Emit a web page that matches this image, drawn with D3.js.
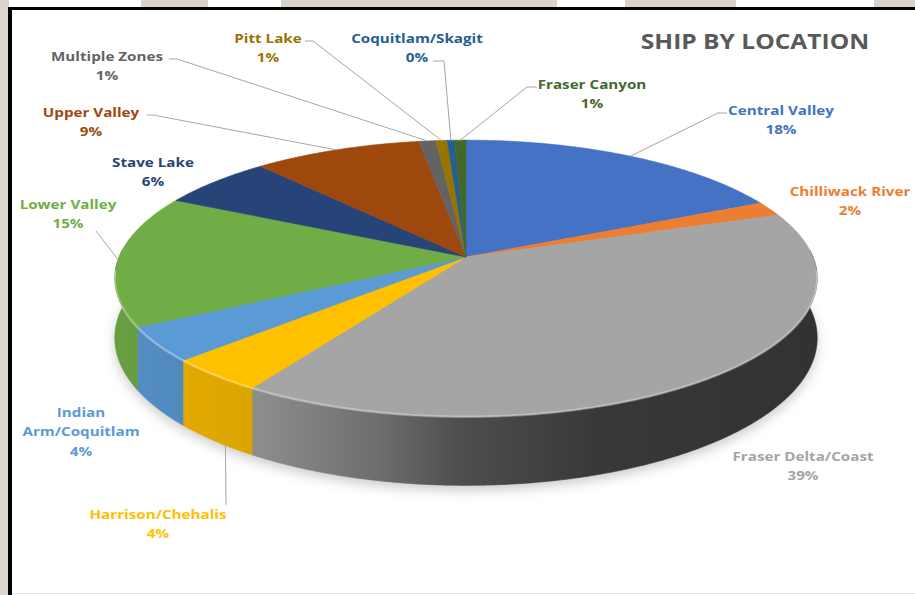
<!DOCTYPE html>
<html>
<head>
<meta charset="utf-8">
<script src="https://cdn.jsdelivr.net/npm/d3@7"></script>
<style>
  body { margin: 0; background: #fff; }
  svg { display: block; font-family: "Open Sans", sans-serif; }
</style>
</head>
<body>
<svg id="chart" width="915" height="595"></svg>
<script>
// slices, clockwise from 12 o'clock
const locations = ['Central Valley', 'Chilliwack River', 'Fraser Delta/Coast', 'Harrison/Chehalis',
  'Indian Arm/Coquitlam', 'Lower Valley', 'Stave Lake', 'Upper Valley', 'Multiple Zones',
  'Pitt Lake', 'Coquitlam/Skagit', 'Fraser Canyon'];
const shares = [18.0, 1.7, 39.3, 4.0, 4.0, 15.4, 6.1, 9.0, 0.9, 0.6, 0.4, 0.6];
const sliceColors = ['#4472c4', '#ed7d31', '#a5a5a5', '#ffc000', '#5b9bd5', '#70ad47',
  '#264478', '#9e480e', '#636363', '#997300', '#255e91', '#43682b'];

// where the labels sit (first baseline, centre) and how leaders bend
const labelLayout = {
  'Central Valley':       {x: 781, y: 115, leader: [[727, 113], [718, 113]]},
  'Chilliwack River':     {x: 850, y: 196},
  'Fraser Delta/Coast':   {x: 803, y: 461},
  'Harrison/Chehalis':    {x: 158, y: 519, leader: [[226, 505]], rimZ: 1, at: 0.35},
  'Indian Arm/Coquitlam': {x: 81,  y: 417, lines: ['Indian', 'Arm/Coquitlam']},
  'Lower Valley':         {x: 68,  y: 209, leader: [[96, 231]]},
  'Stave Lake':           {x: 153, y: 167},
  'Upper Valley':         {x: 91,  y: 117, leader: [[147, 115], [153, 115]]},
  'Multiple Zones':       {x: 107, y: 61,  leader: [[169, 59], [177, 59]]},
  'Pitt Lake':            {x: 268, y: 43,  leader: [[305, 41], [313, 41]]},
  'Coquitlam/Skagit':     {x: 417, y: 43,  leader: [[433, 61], [444, 61]]},
  'Fraser Canyon':        {x: 592, y: 89,  leader: [[537, 87], [527, 87]]}
};

const data = locations.map((name, i) => ({name, value: shares[i], color: sliceColors[i]}));
const total = d3.sum(shares);

// perspective pie: centre, radii, tilt factor, thickness
const cx = 466, cy = 257, A = 347, B = 135, k = 0.155, T = 58;
const textStretch = 1.17;

function proj(a, r, z) {
  const u = r * Math.sin(a), v = -r * Math.cos(a);
  const w = 1 - k * v;
  return [cx + A * u / w, cy + B * v / w + z * T / w];
}

function arcPts(a0, a1, z) {
  const n = Math.max(2, Math.ceil((a1 - a0) / (Math.PI / 360)));
  return d3.range(n + 1).map(i => proj(a0 + (a1 - a0) * i / n, 1, z));
}

const svg = d3.select('#chart');
const defs = svg.append('defs');

// page background bits around the frame
const bg = svg.append('g');
bg.append('rect').attr('x', 0).attr('y', 0).attr('width', 9).attr('height', 595).attr('fill', '#dcd7cf');
[[0, 9], [141, 67], [281, 276], [625, 111], [874, 41]].forEach(([x, w]) => {
  bg.append('rect').attr('x', x).attr('y', 0).attr('width', w).attr('height', 8).attr('fill', '#d9d3ca');
});
bg.append('rect').attr('x', 8).attr('y', 7).attr('width', 907).attr('height', 3).attr('fill', '#000');
bg.append('rect').attr('x', 8).attr('y', 7).attr('width', 4).attr('height', 588).attr('fill', '#000');
bg.append('line').attr('x1', 12).attr('x2', 915).attr('y1', 593.5).attr('y2', 593.5)
  .attr('stroke', '#e4e4e4');

// title
svg.append('text')
  .attr('transform', `translate(755,49) scale(${textStretch},1)`)
  .attr('text-anchor', 'middle')
  .attr('font-size', 21).attr('font-weight', 700)
  .attr('fill', '#595959')
  .text('SHIP BY LOCATION');

const pie = d3.pie().sort(null).value(d => d.value);
const arcs = pie(data);

// soft shadow under the disc
const blur = defs.append('filter').attr('id', 'blur')
  .attr('x', '-20%').attr('y', '-20%').attr('width', '140%').attr('height', '140%');
blur.append('feGaussianBlur').attr('stdDeviation', 6);
const line = d3.line();
svg.append('path')
  .attr('d', line(arcPts(0, 2 * Math.PI, 1).map(p => [p[0], p[1] + 5])) + 'Z')
  .attr('fill', 'rgba(0,0,0,0.2)')
  .attr('filter', 'url(#blur)');

// side shading: light from the left, dark to the right
const shadeStops = [[115, 0.92], [263, 0.85], [380, 0.66], [460, 0.47], [600, 0.34], [817, 0.3]];
function shade(c, f) {
  const r = d3.rgb(c);
  return d3.rgb(r.r * f, r.g * f, r.b * f).formatHex();
}
data.forEach((d, i) => {
  const g = defs.append('linearGradient').attr('id', 'side' + i)
    .attr('gradientUnits', 'userSpaceOnUse')
    .attr('x1', 115).attr('x2', 817).attr('y1', 0).attr('y2', 0);
  shadeStops.forEach(([x, f]) => {
    g.append('stop').attr('offset', (x - 115) / (817 - 115)).attr('stop-color', shade(d.color, f));
  });
});

// side walls, only the front half is visible
const sides = svg.append('g');
arcs.forEach((a, i) => {
  const a0 = Math.max(a.startAngle, Math.PI / 2 - 0.05);
  const a1 = Math.min(a.endAngle, 3 * Math.PI / 2 + 0.05);
  if (a1 <= a0) return;
  const pts = arcPts(a0, a1, 0).concat(arcPts(a0, a1, 1).reverse());
  sides.append('path')
    .attr('d', line(pts) + 'Z')
    .attr('fill', `url(#side${i})`)
    .attr('stroke', `url(#side${i})`)
    .attr('stroke-width', 0.6);
});

// top faces
const tops = svg.append('g');
arcs.forEach(a => {
  const pts = [proj(0, 0, 0)].concat(arcPts(a.startAngle, a.endAngle, 0));
  tops.append('path')
    .attr('d', line(pts) + 'Z')
    .attr('fill', a.data.color)
    .attr('stroke', a.data.color)
    .attr('stroke-width', 0.6);
});

// bevel highlight along the front rim
svg.append('path')
  .attr('d', line(arcPts(Math.PI / 2 + 0.1, 3 * Math.PI / 2 - 0.1, 0)))
  .attr('fill', 'none')
  .attr('stroke', 'rgba(255,255,255,0.3)')
  .attr('stroke-width', 2.5);

// labels and leader lines
const labels = svg.append('g').attr('font-size', 13).attr('font-weight', 700);
arcs.forEach(a => {
  const d = a.data;
  const lay = labelLayout[d.name];
  const f = lay.at === undefined ? 0.5 : lay.at;
  const ang = a.startAngle + (a.endAngle - a.startAngle) * f;
  if (lay.leader) {
    const end = proj(ang, 1, lay.rimZ || 0);
    labels.append('path')
      .attr('d', line(lay.leader.concat([end])))
      .attr('fill', 'none')
      .attr('stroke', '#a6a6a6')
      .attr('stroke-width', 1);
  }
  const rows = (lay.lines || [d.name]).concat([Math.round(d.value / total * 100) + '%']);
  const t = labels.append('text')
    .attr('transform', `translate(${lay.x},${lay.y}) scale(${textStretch},1)`)
    .attr('text-anchor', 'middle')
    .attr('fill', d.color);
  rows.forEach((r, j) => {
    t.append('tspan').attr('x', 0).attr('y', j * 19.5).text(r);
  });
});
</script>
</body>
</html>
